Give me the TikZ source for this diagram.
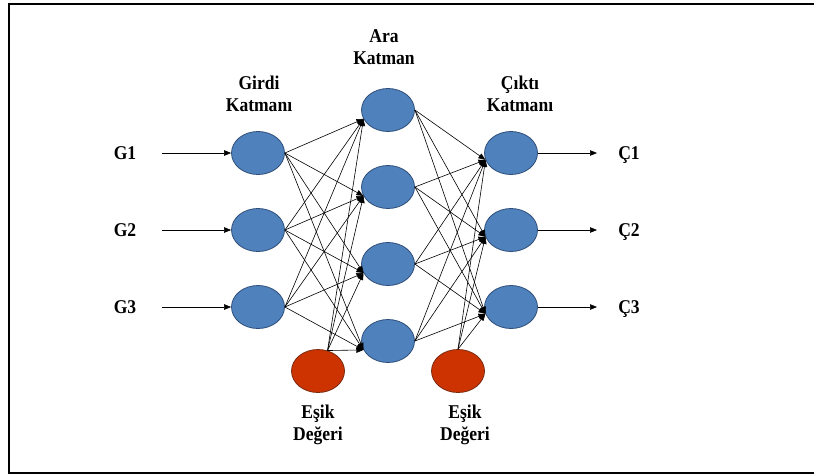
\documentclass[tikz,border=0pt]{standalone}
\usepackage{fontspec}
\setmainfont[FakeStretch=0.9]{Liberation Serif}
\usetikzlibrary{shapes.geometric,arrows.meta}
\definecolor{nodeblue}{HTML}{4F81BD}
\definecolor{nodeblueline}{HTML}{2F4F7A}
\definecolor{biasred}{HTML}{CC3300}
\definecolor{biasline}{HTML}{7A2A10}

\begin{document}
\begin{tikzpicture}[x=1pt,y=-1pt,
  neuron/.style={ellipse, draw=nodeblueline, fill=nodeblue, line width=0.8pt,
                 minimum width=53pt, minimum height=43pt, inner sep=0pt},
  biasnode/.style={neuron, draw=biasline, fill=biasred},
  lbl/.style={font=\bfseries\fontsize{19.5}{21.5}\selectfont, align=center, inner sep=0pt},
  sidelbl/.style={lbl, anchor=base},
  link/.style={-{Triangle[length=7pt,width=5.5pt]}, line width=0.6pt},
]
\useasboundingbox (0,0) rectangle (814,475);

% frame
\draw[line width=2pt] (814,4) -- (9,4) -- (9,473) -- (814,473);

% input layer
\node[neuron] (i1) at (258,153) {};
\node[neuron] (i2) at (258,230) {};
\node[neuron] (i3) at (258,307) {};

% hidden layer
\node[neuron] (h1) at (388,110) {};
\node[neuron] (h2) at (388,187) {};
\node[neuron] (h3) at (388,264) {};
\node[neuron] (h4) at (388,341) {};

% output layer
\node[neuron] (o1) at (511,153) {};
\node[neuron] (o2) at (511,230) {};
\node[neuron] (o3) at (511,307) {};

% bias units
\node[biasnode] (b1) at (318,371) {};
\node[biasnode] (b2) at (458,371) {};

% layer captions
\node[lbl] (t1) at (384,47) {Ara\\Katman};
\node[lbl] (t2) at (259,94) {Girdi\\Katmanı};
\node[lbl] (t3) at (520,94) {Çıktı\\Katmanı};
\node[lbl] (t4) at (318,425) {Eşik\\Değeri};
\node[lbl] (t5) at (465,425) {Eşik\\Değeri};

% inputs and outputs
\node[sidelbl] (g1) at (125,159) {G1};
\node[sidelbl] (g2) at (125,236) {G2};
\node[sidelbl] (g3) at (125,313) {G3};
\node[sidelbl] (c1) at (629,159) {Ç1};
\node[sidelbl] (c2) at (629,236) {Ç2};
\node[sidelbl] (c3) at (629,313) {Ç3};

% input and output arrows
\foreach \k/\y in {1/153,2/230,3/307} {
  \coordinate (in\k) at (162,\y);
  \coordinate (out\k) at (597,\y);
  \draw[link] (in\k) -- (i\k.west);
  \draw[link] (o\k.east) -- (out\k);
}

% input -> hidden
\foreach \i in {1,2,3}
  \foreach \h in {1,...,4}
    \draw[link] (i\i.east) -- (h\h.200);
\foreach \h in {1,...,4}
  \draw[link] (b1.65) -- (h\h.200);

% hidden -> output
\foreach \h in {1,...,4}
  \foreach \o in {1,2,3}
    \draw[link] (h\h.east) -- (o\o.195);
\foreach \o in {1,2,3}
  \draw[link] (b2.north) -- (o\o.195);
\end{tikzpicture}
\end{document}
